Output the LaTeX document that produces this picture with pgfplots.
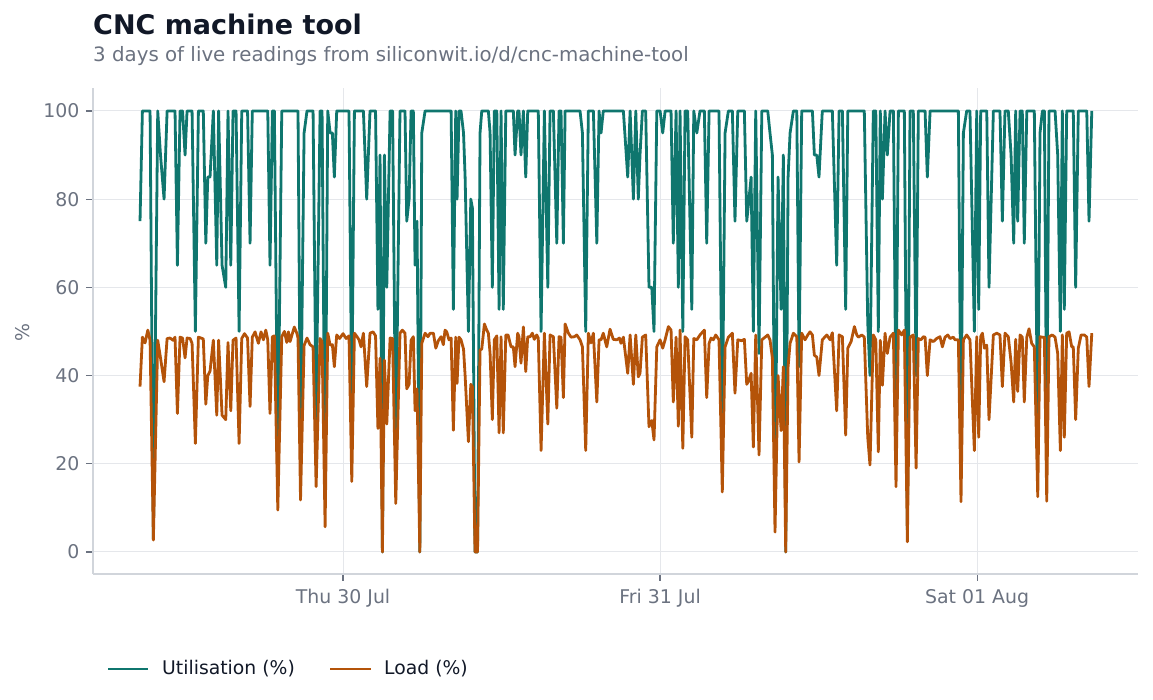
\documentclass[border=0pt]{standalone}
\usepackage{fontspec}
\setmainfont{DejaVu Sans}
\usepackage{pgfplots}
\usepackage{pgfplotstable}
\pgfplotsset{compat=1.18}

\definecolor{utilc}{HTML}{0F766E}
\definecolor{loadc}{HTML}{B45309}
\definecolor{titlec}{HTML}{111827}
\definecolor{subc}{HTML}{6B7280}
\definecolor{spinec}{HTML}{D1D5DB}
\definecolor{gridc}{HTML}{E5E7EB}

% hours since Thu 30 Jul 00:00, utilisation (%), load (%)
\pgfplotstableread{
h util load
-15.37 75 37.5
-15.19 100 48.7
-14.99 100 47.4
-14.78 100 50.3
-14.61 100 48.0
-14.36 3 2.7
-14.03 100 48.0
-13.82 90 44.0
-13.55 80 38.6
-13.32 100 48.4
-13.10 100 48.5
-12.87 100 48.0
-12.72 100 48.7
-12.54 65 31.4
-12.34 100 48.7
-12.15 100 48.5
-11.96 90 44.0
-11.81 100 48.5
-11.58 100 48.4
-11.43 100 47.3
-11.18 50 24.6
-10.95 100 48.7
-10.75 100 48.5
-10.58 100 48.3
-10.39 70 33.5
-10.24 85 40.0
-10.07 85 41.0
-9.82 100 48.0
-9.56 65 31.0
-9.42 100 48.0
-9.16 65 31.0
-8.88 60 30.0
-8.71 100 47.5
-8.50 65 32.0
-8.33 100 48.0
-8.10 100 48.5
-7.87 50 24.6
-7.67 100 48.4
-7.46 100 49.5
-7.23 100 48.5
-7.04 70 33.0
-6.87 100 48.7
-6.66 100 49.9
-6.41 100 47.3
-6.21 100 49.9
-6.03 100 48.1
-5.85 100 50.3
-5.70 100 48.1
-5.53 65 31.4
-5.35 100 48.8
-5.20 100 49.0
-4.94 20 9.5
-4.64 100 48.8
-4.44 100 50.0
-4.26 100 47.5
-4.14 100 49.9
-4.01 100 47.7
-3.84 100 49.5
-3.69 100 51.0
-3.50 100 49.6
-3.41 100 48.5
-3.22 24 11.8
-2.95 95 46.8
-2.73 100 48.5
-2.50 100 47.0
-2.27 100 46.5
-2.04 30 14.8
-1.74 100 48.4
-1.59 100 47.7
-1.36 12 5.7
-1.16 100 49.6
-0.98 95 46.9
-0.81 95 47.0
-0.66 85 42.0
-0.48 100 49.2
-0.26 100 48.4
0.00 100 49.5
0.23 100 48.4
0.45 100 49.0
0.66 33 16.0
0.86 100 49.6
1.06 100 48.8
1.21 100 48.1
1.36 100 46.5
1.54 100 49.6
1.79 80 37.5
2.04 100 49.6
2.27 100 49.9
2.46 100 49.0
2.64 55 28.0
2.80 90 43.9
2.98 0 0.0
3.13 90 43.5
3.31 60 29.0
3.56 100 48.5
3.75 100 48.4
3.99 22 11.0
4.31 100 49.6
4.49 100 50.3
4.69 100 49.6
4.82 75 37.0
5.00 80 38.0
5.15 100 48.0
5.32 100 48.8
5.45 65 32.0
5.60 75 37.0
5.81 0 0.0
5.96 95 47.3
6.21 100 49.6
6.43 100 48.8
6.59 100 49.6
6.84 100 49.6
7.02 100 46.2
7.21 100 47.9
7.42 100 48.8
7.59 100 47.0
7.72 100 50.3
7.85 100 49.9
8.02 100 48.1
8.18 100 48.5
8.35 55 27.6
8.53 100 48.7
8.63 80 38.2
8.78 100 48.7
8.93 100 48.1
9.12 95 46.0
9.24 85 40.0
9.49 50 25.0
9.67 80 38.0
9.79 78 37.5
9.99 0 0.0
10.18 0 0.0
10.37 95 45.8
10.50 100 46.0
10.70 100 51.7
10.85 100 50.5
11.00 100 49.6
11.13 95 45.0
11.30 60 30.0
11.45 100 48.1
11.64 100 49.0
11.81 55 27.0
11.96 100 48.8
12.13 55 27.0
12.32 100 49.2
12.49 100 49.2
12.72 100 46.5
12.89 100 46.5
13.02 90 42.0
13.22 100 49.6
13.32 100 48.8
13.47 90 42.8
13.65 100 51.0
13.83 85 40.9
13.98 100 48.8
14.16 100 48.8
14.33 100 49.6
14.48 100 48.2
14.66 100 49.2
14.78 100 48.5
14.99 50 23.0
15.24 100 49.6
15.50 60 29.0
15.67 100 49.2
15.92 100 48.8
16.18 70 32.6
16.35 100 48.8
16.50 100 48.7
16.68 70 35.0
16.81 100 51.7
17.06 100 49.6
17.26 100 48.7
17.51 100 48.8
17.69 100 49.2
17.94 100 48.1
18.12 95 46.5
18.37 50 23.0
18.57 100 49.6
18.77 100 47.4
18.95 100 49.6
19.21 70 34.0
19.38 100 48.1
19.53 95 48.1
19.70 100 49.6
19.96 100 46.5
20.21 100 50.5
20.46 100 48.2
20.72 100 48.1
20.92 100 48.5
21.04 100 47.3
21.22 100 48.7
21.55 85 40.5
21.73 100 49.2
21.98 80 38.0
22.16 100 49.2
22.35 80 39.7
22.48 90 40.5
22.66 100 48.7
22.91 100 49.2
23.16 60 28.4
23.37 60 29.8
23.54 50 25.4
23.75 100 46.5
24.00 100 48.1
24.20 95 46.2
24.38 100 48.1
24.63 100 51.1
24.83 100 50.3
25.00 70 34.0
25.21 100 48.7
25.38 60 28.5
25.51 100 50.3
25.72 50 23.5
25.89 100 48.8
26.09 100 48.1
26.40 55 26.0
26.55 100 48.4
26.78 95 48.1
27.02 100 49.2
27.35 100 50.3
27.53 70 35.0
27.71 100 47.3
27.86 100 48.5
28.03 100 48.1
28.21 100 49.2
28.46 100 48.1
28.71 27 13.6
28.92 95 46.5
29.17 100 48.7
29.47 100 49.6
29.67 75 36.0
29.88 100 48.1
30.18 100 47.9
30.38 100 48.2
30.56 75 38.0
30.73 80 39.0
30.89 85 40.5
31.06 50 23.8
31.24 100 49.2
31.49 45 22.0
31.70 100 48.1
31.95 100 48.7
32.15 100 49.2
32.32 95 48.1
32.50 90 44.0
32.70 10 4.5
32.93 85 40.0
33.16 55 27.5
33.33 90 42.0
33.51 0 0.0
33.69 85 42.0
33.84 95 47.3
34.09 100 49.6
34.35 100 48.8
34.52 42 20.4
34.72 100 49.6
34.97 100 48.1
35.18 100 49.2
35.35 100 49.9
35.53 100 49.2
35.68 90 44.6
35.86 90 44.2
36.03 85 40.0
36.28 100 48.1
36.62 100 49.2
36.87 100 48.1
37.04 100 49.7
37.37 65 32.0
37.55 100 49.2
37.80 100 48.8
38.05 55 26.5
38.21 100 46.2
38.46 100 47.7
38.71 100 51.1
38.89 100 49.2
39.01 100 48.7
39.27 100 49.2
39.46 100 48.7
39.72 52 26.0
39.89 40 19.7
40.14 100 49.2
40.33 100 48.1
40.52 50 22.7
40.67 100 48.0
40.83 80 37.8
41.03 100 49.6
41.20 90 45.0
41.41 100 48.7
41.66 100 49.6
41.86 30 14.8
42.04 100 50.3
42.29 100 49.2
42.49 100 50.3
42.72 5 2.3
42.92 100 48.7
43.17 100 49.2
43.38 40 19.0
43.55 100 48.4
43.75 100 48.1
43.93 100 48.8
44.06 100 48.7
44.23 85 40.0
44.44 100 48.1
44.69 100 47.7
44.94 100 48.4
45.19 100 48.8
45.37 100 46.5
45.57 100 48.7
45.78 100 49.2
45.95 100 48.4
46.20 100 48.7
46.33 100 48.1
46.58 100 48.1
46.78 25 11.4
46.96 95 48.1
47.21 100 49.2
47.46 100 48.1
47.79 50 23.0
47.97 100 48.8
48.12 55 26.0
48.27 100 48.8
48.40 100 49.6
48.55 100 46.2
48.73 100 46.9
48.90 60 30.0
49.23 100 49.2
49.49 100 49.6
49.73 100 49.2
49.91 75 37.5
50.11 100 49.6
50.36 100 48.8
50.57 90 43.0
50.77 70 34.0
50.92 100 48.2
51.07 75 36.4
51.25 100 49.2
51.42 100 48.7
51.57 70 34.0
51.76 100 48.7
51.93 100 50.6
52.13 100 47.3
52.33 100 46.5
52.59 25 12.5
52.76 95 48.8
52.94 100 48.7
53.09 100 48.7
53.27 24 11.5
53.44 100 48.8
53.69 100 49.2
53.90 100 48.7
54.10 90 45.0
54.30 50 23.0
54.45 100 49.2
54.60 55 26.0
54.78 100 49.6
54.96 100 49.9
55.16 100 46.5
55.28 100 46.5
55.46 60 30.0
55.66 100 46.2
55.87 100 49.2
56.12 100 49.2
56.30 100 48.7
56.47 75 37.5
56.68 100 49.6
}\cncdata

\begin{document}
\begin{tikzpicture}[x=1pt,y=1pt]
\path[use as bounding box] (-93,-126) rectangle (1060,574);

\begin{axis}[
    at={(0,0)}, anchor=south west,
    scale only axis,
    width=1045pt, height=486pt,
    xmin=-18.93, xmax=60.18,
    ymin=-5, ymax=105.2,
    axis x line*=bottom, axis y line*=left,
    axis line style={color=spinec, line width=1.5pt, -},
    xtick={0,24,48},
    xticklabels={Thu 30 Jul, Fri 31 Jul, Sat 01 Aug},
    ytick={0,20,40,60,80,100},
    tick align=outside,
    major tick length=7pt,
    tick style={color=subc, line width=1.2pt},
    grid=major,
    major grid style={color=gridc, line width=1pt},
    /pgf/number format/assume math mode=true,
    ticklabel style={font=\fontsize{18.9}{22}\selectfont, text=subc},
    xticklabel style={yshift=-5pt},
    yticklabel style={xshift=-3pt},
    every axis plot/.append style={line width=2.8pt, line join=round, mark=none},
]
\addplot[color=utilc] table[x=h, y=util] {\cncdata};
\addplot[color=loadc] table[x=h, y=load] {\cncdata};
\end{axis}

\node[rotate=90, font=\fontsize{18.9}{22}\selectfont, text=subc] at (-70,241) {\%};

\node[anchor=base west, inner sep=0, font=\fontsize{27}{32}\selectfont\bfseries, text=titlec] at (0,539) {CNC machine tool};
\node[anchor=base west, inner sep=0, font=\fontsize{19.8}{23}\selectfont, text=subc] at (0,512) {3 days of live readings from siliconwit.io/d/cnc-machine-tool};

\draw[color=utilc, line width=2.8pt] (15,-95) -- (55,-95);
\node[anchor=west, inner sep=0, font=\fontsize{18.8}{22}\selectfont, text=titlec] at (69,-95) {Utilisation (\%)};
\draw[color=loadc, line width=2.8pt] (237,-95) -- (278,-95);
\node[anchor=west, inner sep=0, font=\fontsize{18.8}{22}\selectfont, text=titlec] at (291,-95) {Load (\%)};
\end{tikzpicture}
\end{document}
